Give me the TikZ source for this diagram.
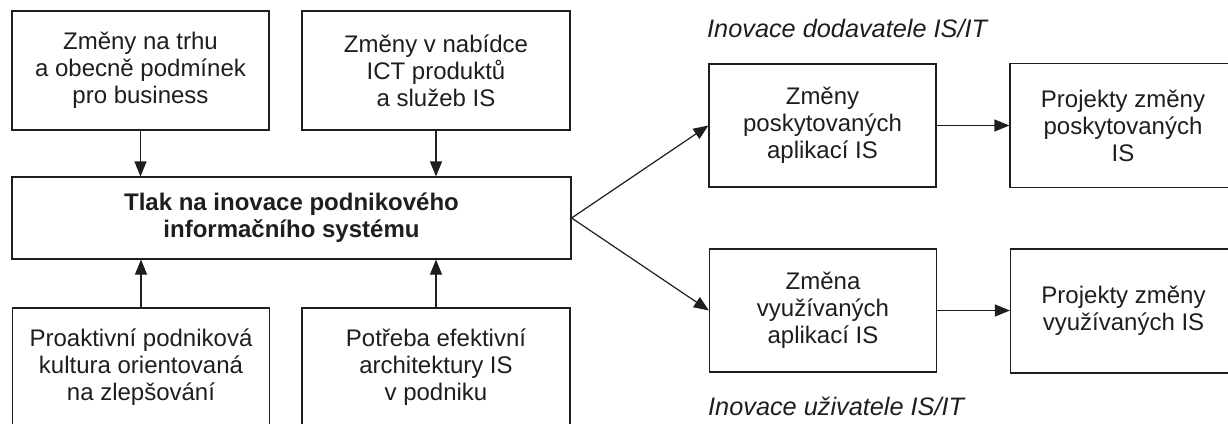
\documentclass[tikz,border=0pt]{standalone}
\usepackage{fontspec}
\setmainfont{Liberation Sans}
\usetikzlibrary{arrows.meta}
\definecolor{ink}{HTML}{1E1E1E}
\tikzset{
  box/.style={draw=ink, line width=1.2pt, text=ink, align=center, inner sep=0pt,
    font=\fontsize{24}{27}\selectfont},
  conn/.style={draw=ink, line width=1.2pt, -{Triangle[length=15pt,width=12pt]}},
  heading/.style={text=ink, anchor=west, inner sep=0pt, font=\fontsize{25.3}{28}\selectfont\itshape}
}
\begin{document}
\begin{tikzpicture}[x=1pt,y=-1pt]
\useasboundingbox (0,0) rectangle (1228,423);
\clip (0,0) rectangle (1228,423);
\fill[white] (0,0) rectangle (1228,423);
% left column
\node[box, minimum width=257, minimum height=119] (a) at (140.5,70.5)
  {Změny na trhu\\a obecně podmínek\\pro business};
\node[box, minimum width=268, minimum height=119] (b) at (436,70.5)
  {Změny v nabídce\\ICT produktů\\a služeb IS};
\node[box, minimum width=559, minimum height=82,
  font=\fontsize{24}{27}\selectfont\bfseries] (c) at (291.5,218)
  {Tlak na inovace podnikového\\informačního systému};
\node[box, minimum width=257, minimum height=118] (d) at (141,367)
  {Proaktivní podniková\\kultura orientovaná\\na zlepšování};
\node[box, minimum width=268, minimum height=118] (e) at (436,367)
  {Potřeba efektivní\\architektury IS\\v podniku};
% right column
\node[heading] (h1) at (707,28) {Inovace dodavatele IS/IT};
\node[box, minimum width=227, minimum height=123] (f) at (822.5,125.5)
  {Změny\\poskytovaných\\aplikací IS};
\node[box, minimum width=226, minimum height=124] (g) at (1123,125.5)
  {Projekty změny\\poskytovaných\\IS};
\node[box, minimum width=227, minimum height=123] (k) at (823,310.5)
  {Změna\\využívaných\\aplikací IS};
\node[box, minimum width=226, minimum height=124] (l) at (1123.5,311)
  {Projekty změny\\využívaných IS};
\node[heading] (h2) at (708,406) {Inovace uživatele IS/IT};
% connectors
\draw[conn] (a.south) -- (a.south |- c.north);
\draw[conn] (b.south) -- (b.south |- c.north);
\draw[conn] (d.north) -- (d.north |- c.south);
\draw[conn] (e.north) -- (e.north |- c.south);
\draw[conn] (c.east) -- (f.west);
\draw[conn] (c.east) -- (k.west);
\draw[conn] (f.east) -- (g.west |- f.east);
\draw[conn] (k.east) -- (l.west |- k.east);
\end{tikzpicture}
\end{document}
